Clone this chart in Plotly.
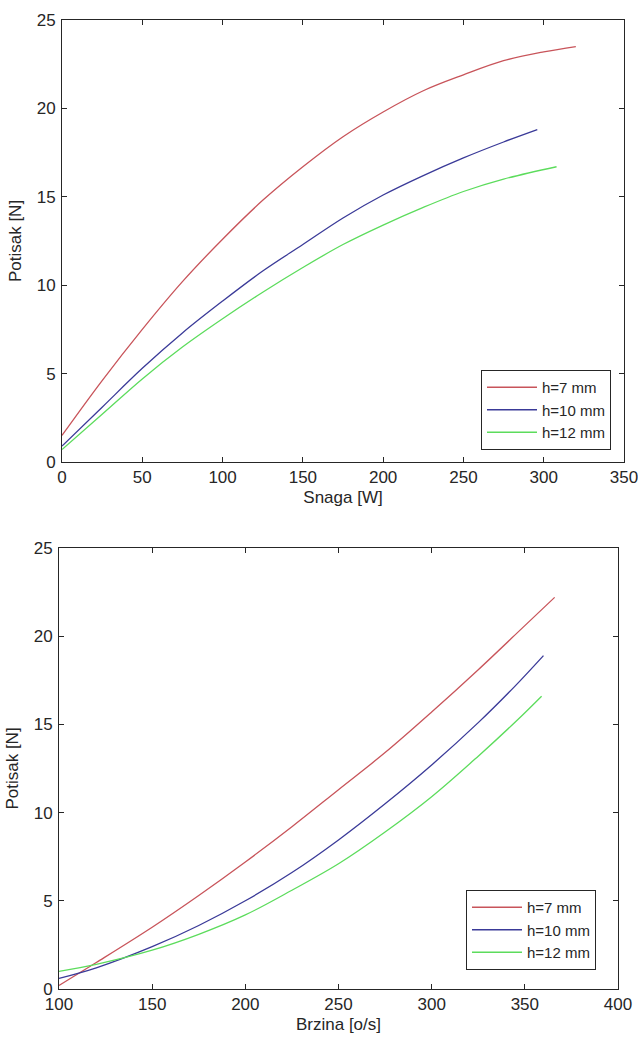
import plotly.graph_objects as go

# ---- Top chart: thrust vs power ----
power_h7 = [0, 25, 50, 75, 100, 125, 150, 175, 200, 225, 250, 275, 300, 320]
thrust_p_h7 = [1.5, 4.6, 7.5, 10.2, 12.6, 14.8, 16.7, 18.4, 19.8, 21.0, 21.9, 22.7, 23.2, 23.5]
power_h10 = [0, 25, 50, 75, 100, 125, 150, 175, 200, 225, 250, 275, 296]
thrust_p_h10 = [0.9, 3.1, 5.3, 7.3, 9.1, 10.8, 12.3, 13.8, 15.1, 16.2, 17.2, 18.1, 18.8]
power_h12 = [0, 25, 50, 75, 100, 125, 150, 175, 200, 225, 250, 275, 308]
thrust_p_h12 = [0.7, 2.7, 4.7, 6.5, 8.1, 9.6, 11.0, 12.3, 13.4, 14.4, 15.3, 16.0, 16.7]

# ---- Bottom chart: thrust vs speed ----
speed_h7 = [100, 120, 150, 175, 200, 225, 250, 275, 300, 325, 350, 366]
thrust_s_h7 = [0.2, 1.5, 3.5, 5.3, 7.2, 9.2, 11.3, 13.4, 15.7, 18.1, 20.6, 22.2]
speed_h10 = [100, 120, 150, 175, 200, 225, 250, 275, 300, 325, 345, 360]
thrust_s_h10 = [0.6, 1.2, 2.4, 3.6, 5.0, 6.6, 8.45, 10.5, 12.7, 15.1, 17.2, 18.9]
speed_h12 = [100, 120, 150, 175, 200, 225, 250, 275, 300, 325, 346, 359]
thrust_s_h12 = [1.0, 1.4, 2.2, 3.1, 4.2, 5.6, 7.1, 8.9, 10.9, 13.2, 15.25, 16.6]

labels = ["h=7 mm", "h=10 mm", "h=12 mm"]
colors = ["#c8545a", "#3a3a98", "#5cdc5c"]

W, H = 638, 1044
FONT = "Liberation Sans, Arial, sans-serif"
AX = "#262626"

fig = go.Figure()

top_sets = [(power_h7, thrust_p_h7), (power_h10, thrust_p_h10), (power_h12, thrust_p_h12)]
for (xs, ys), lab, col in zip(top_sets, labels, colors):
    fig.add_trace(go.Scatter(x=xs, y=ys, mode="lines", name=lab,
                             line=dict(color=col, width=1.3, shape="spline", smoothing=1.0),
                             xaxis="x", yaxis="y", legend="legend"))

bot_sets = [(speed_h7, thrust_s_h7), (speed_h10, thrust_s_h10), (speed_h12, thrust_s_h12)]
for (xs, ys), lab, col in zip(bot_sets, labels, colors):
    fig.add_trace(go.Scatter(x=xs, y=ys, mode="lines", name=lab,
                             line=dict(color=col, width=1.3, shape="spline", smoothing=1.0),
                             xaxis="x2", yaxis="y2", legend="legend2"))

def px_x(p):
    return p / W

def px_y(p):
    return 1 - p / H

axis_common = dict(showline=True, mirror="ticks", linecolor=AX, linewidth=1,
                   ticks="inside", ticklen=5, tickcolor=AX, showgrid=False,
                   zeroline=False, automargin=False, ticklabeloverflow="allow",
                   tickfont=dict(family=FONT, size=17, color=AX),
                   title_font=dict(family=FONT, size=17, color=AX))

fig.update_layout(
    width=W, height=H,
    margin=dict(l=0, r=0, t=0, b=0, autoexpand=False),
    paper_bgcolor="white", plot_bgcolor="white",
    font=dict(family=FONT, color=AX),
    xaxis=dict(domain=[px_x(62), px_x(624)], range=[0, 350], tickvals=[0, 50, 100, 150, 200, 250, 300, 350],
               anchor="y", title=dict(text="Snaga [W]", standoff=4), **axis_common),
    yaxis=dict(domain=[px_y(462), px_y(20)], range=[0, 25], tickvals=[0, 5, 10, 15, 20, 25],
               anchor="x", title=dict(text="Potisak [N]", standoff=10), ticklabelstandoff=2,
               **axis_common),
    xaxis2=dict(domain=[px_x(59), px_x(618)], range=[100, 400], tickvals=[100, 150, 200, 250, 300, 350, 400],
                anchor="y2", title=dict(text="Brzina [o/s]", standoff=4), **axis_common),
    yaxis2=dict(domain=[px_y(989), px_y(548)], range=[0, 25], tickvals=[0, 5, 10, 15, 20, 25],
                anchor="x2", title=dict(text="Potisak [N]", standoff=10), ticklabelstandoff=2,
                **axis_common),
    legend=dict(x=px_x(611), y=px_y(450), xanchor="right", yanchor="bottom",
                bgcolor="white", bordercolor=AX, borderwidth=1,
                font=dict(family=FONT, size=15, color=AX), itemwidth=50,
                tracegroupgap=0),
    legend2=dict(x=px_x(596), y=px_y(970), xanchor="right", yanchor="bottom",
                 bgcolor="white", bordercolor=AX, borderwidth=1,
                 font=dict(family=FONT, size=15, color=AX), itemwidth=50,
                 tracegroupgap=0),
    showlegend=True,
)

fig.write_html("out.html", config={"displayModeBar": False},
               post_script="document.body.style.margin='0px';document.body.style.overflow='hidden';")
